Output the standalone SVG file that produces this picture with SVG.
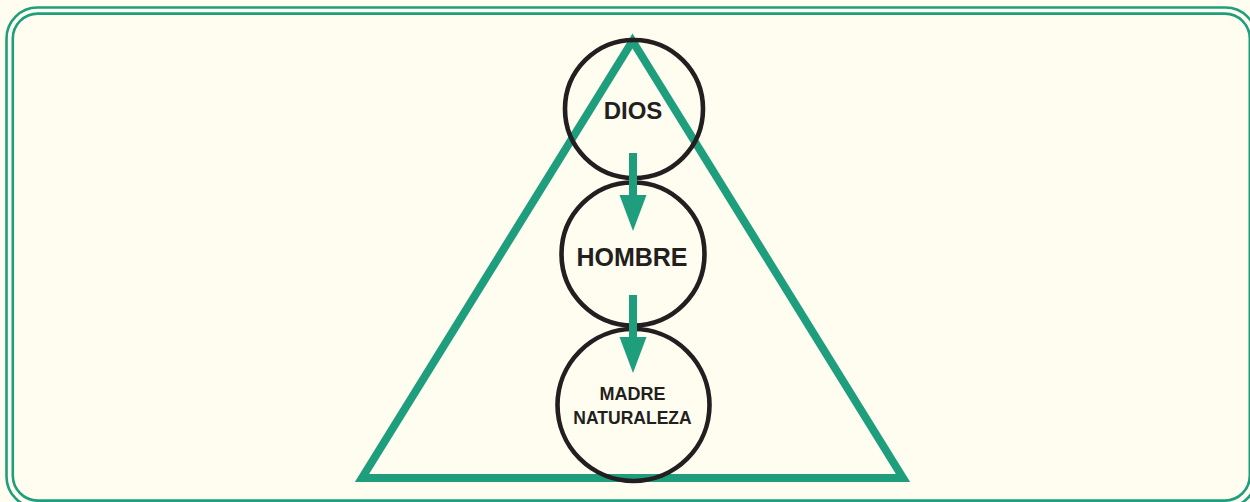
<svg xmlns="http://www.w3.org/2000/svg" width="1250" height="502" viewBox="0 0 1250 502">
<defs>
<style>
.frame{fill:none;stroke:#1f9e7e;stroke-width:2.6}
.tri{fill:none;stroke:#1f9e7e;stroke-width:8;stroke-linejoin:miter;stroke-miterlimit:10}
.ring{fill:none;stroke:#231f20;stroke-width:4.6}
.lbl{font-family:"Liberation Sans",Arial,sans-serif;font-weight:bold;fill:#231f20;text-anchor:middle}
.shaft{fill:none;stroke:#1f9e7e;stroke-width:8}
.head{fill:#1f9e7e}
</style>
</defs>
<rect x="0" y="0" width="1250" height="502" fill="#fefdf0"/>
<g id="frame">
<rect class="frame" x="6.5" y="7.5" width="1250" height="500" rx="31" ry="31"/>
<rect class="frame" x="12.8" y="13.6" width="1237" height="487" rx="25" ry="25"/>
</g>
<g id="triangle">
<polygon class="tri" points="632.5,41 362,478 903,478"/>
</g>
<g id="dios">
<circle class="ring" cx="634" cy="109" r="69"/>
<text class="lbl" x="633" y="119" font-size="24">DIOS</text>
</g>
<g id="hombre">
<circle class="ring" cx="633" cy="254" r="71.5"/>
<text class="lbl" x="632" y="266" font-size="25">HOMBRE</text>
</g>
<g id="madre-naturaleza">
<circle class="ring" cx="633.5" cy="405" r="76"/>
<text class="lbl" x="632.5" y="400" font-size="18">MADRE</text>
<text class="lbl" x="632.5" y="424" font-size="17.5">NATURALEZA</text>
</g>
<g id="connectors">
<line class="shaft" x1="633" y1="153" x2="633" y2="197"/>
<polygon class="head" points="619.5,195 646.5,195 633,231"/>
<line class="shaft" x1="633" y1="295" x2="633" y2="339"/>
<polygon class="head" points="619.5,337 646.5,337 633,373"/>
</g>
</svg>
